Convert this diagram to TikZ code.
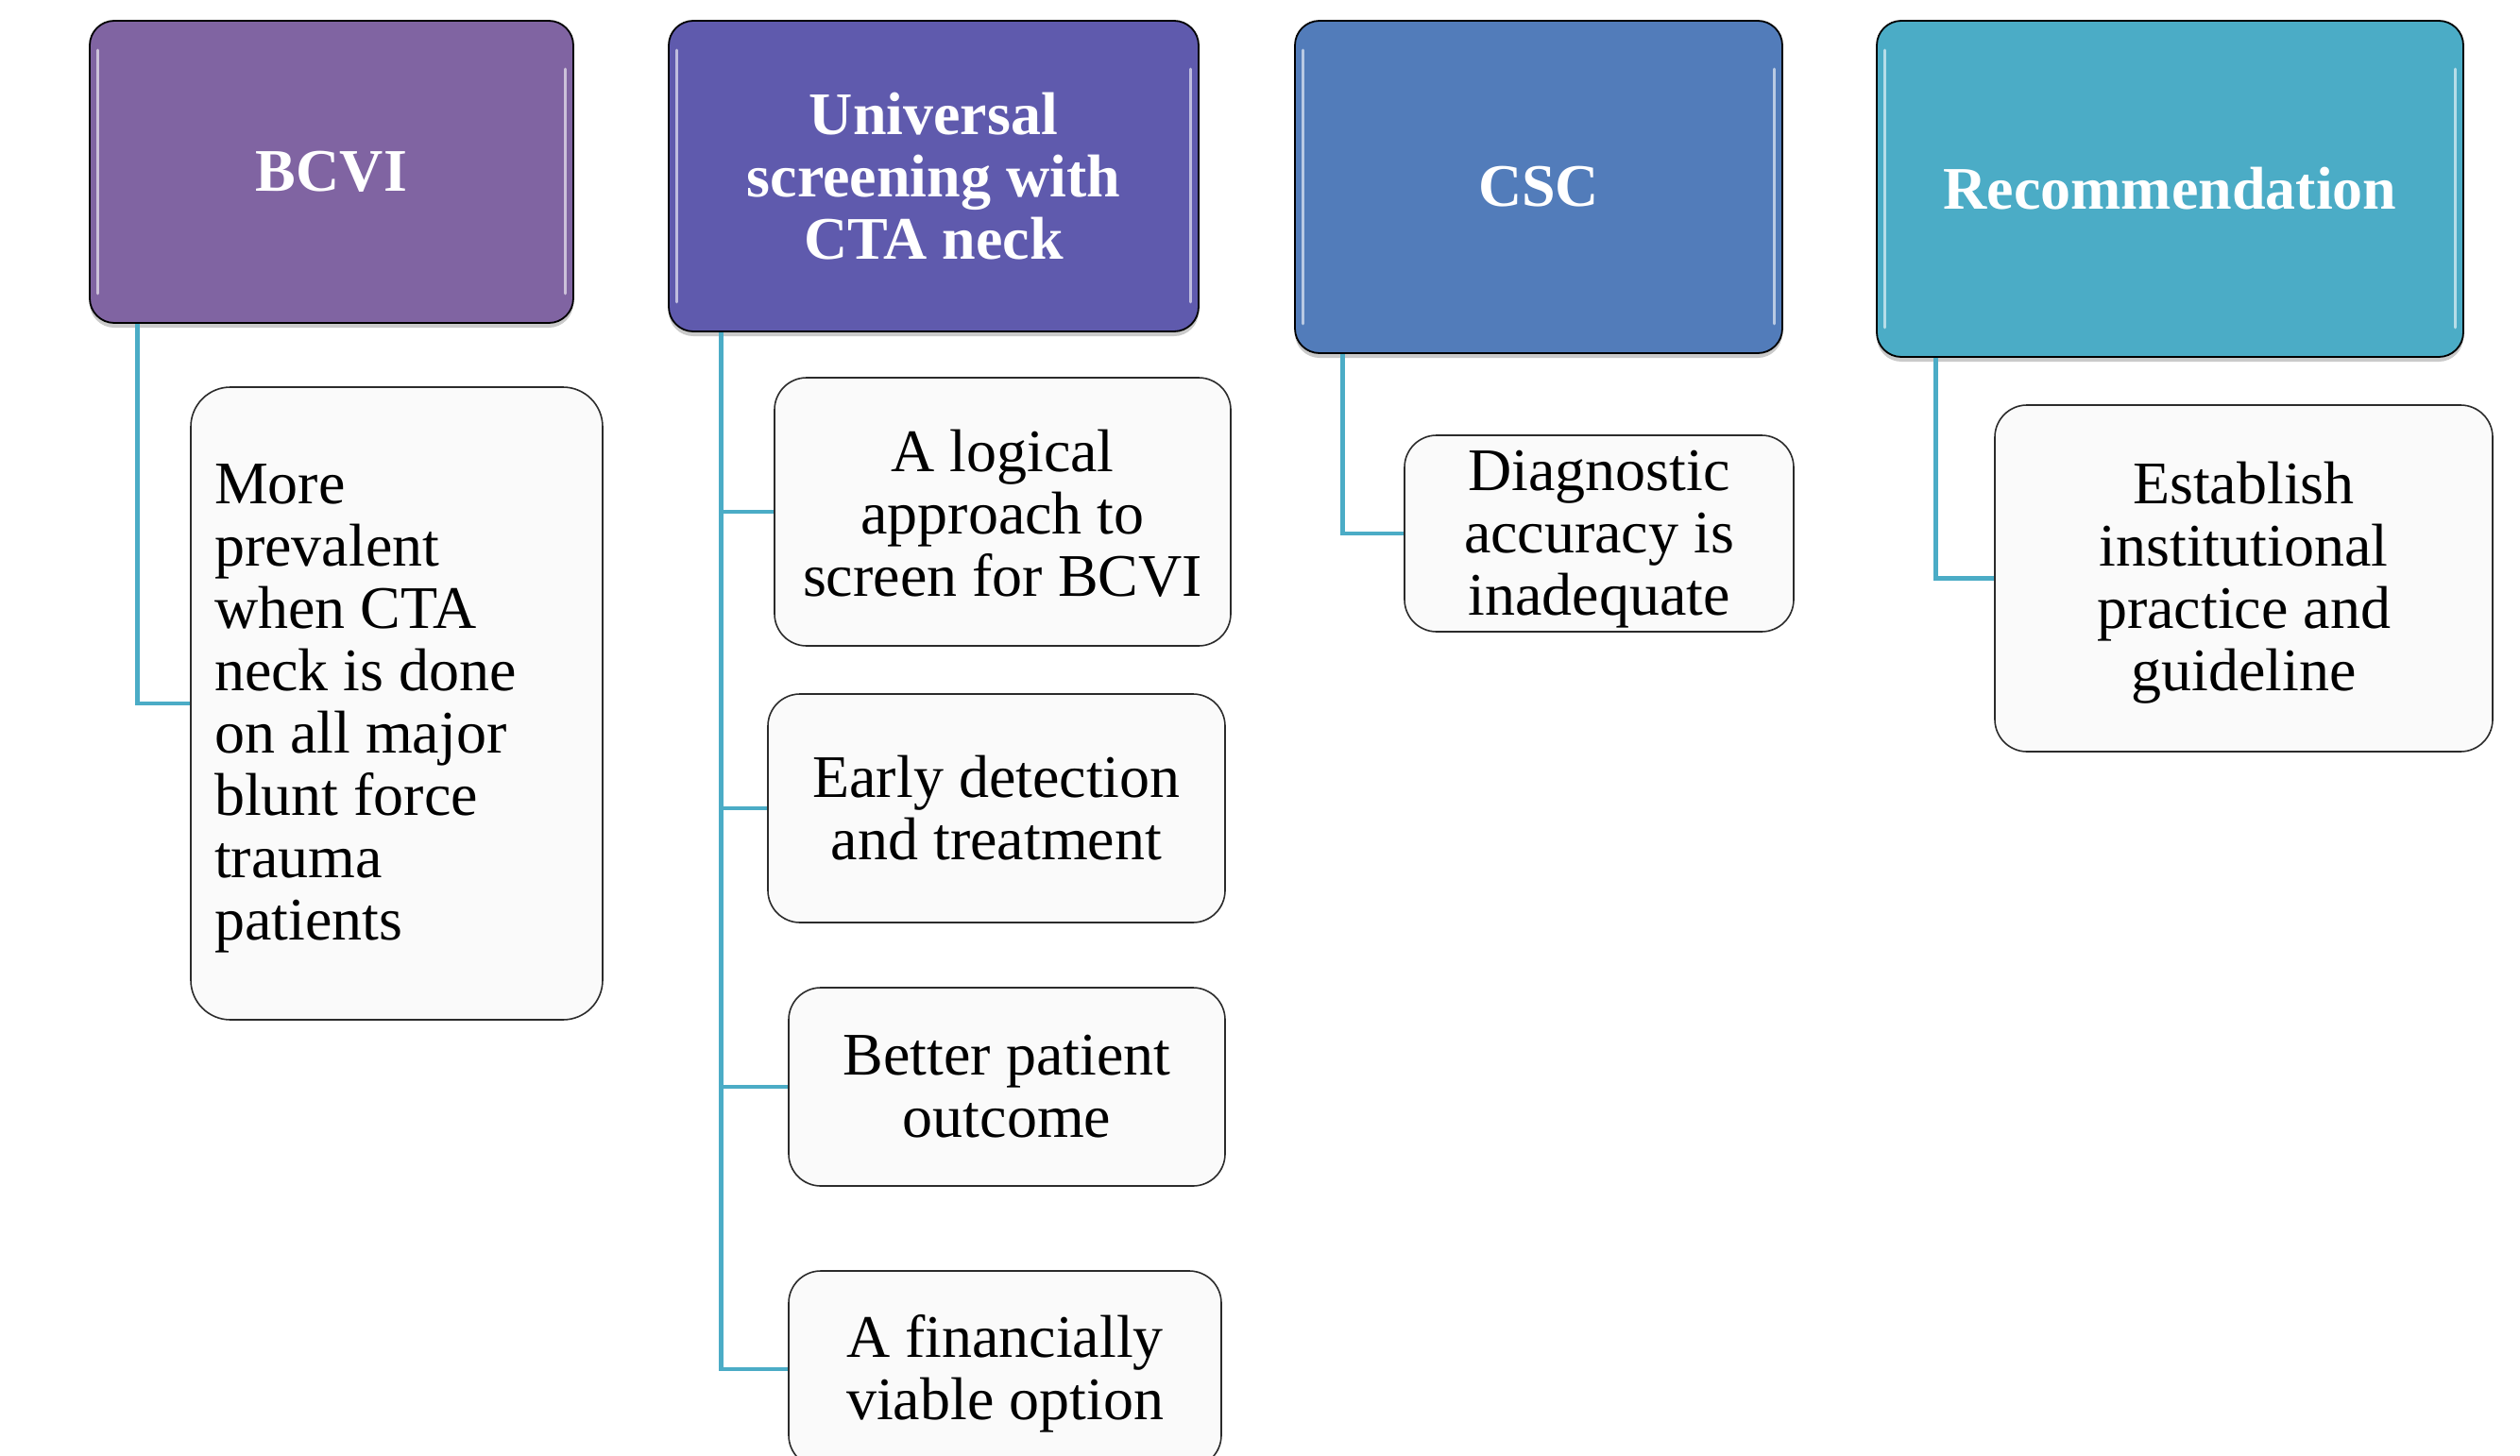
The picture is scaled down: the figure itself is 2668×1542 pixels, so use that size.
\documentclass[tikz,border=0pt]{standalone}
\usepackage{fontspec}
\setmainfont{Liberation Serif}
\usetikzlibrary{shadows}

\definecolor{cBcvi}{HTML}{8064A2}
\definecolor{cUniv}{HTML}{5F5AAD}
\definecolor{cCsc}{HTML}{527CBA}
\definecolor{cRec}{HTML}{4BACC6}
\definecolor{cLink}{HTML}{4BACC6}
\definecolor{cCard}{HTML}{FAFAFA}
\definecolor{cEdge}{HTML}{2B2B2B}

\tikzset{
  head/.style={rounded corners=13pt, draw=black, line width=0.9pt, fill=#1,
    text=white, font=\bfseries\fontsize{32}{33}\selectfont, align=center,
    inner sep=0pt,
    drop shadow={shadow xshift=0pt, shadow yshift=-2.5pt, opacity=0.35, fill=black!60}},
  card/.style={rounded corners=17pt, draw=cEdge, line width=0.8pt, fill=cCard,
    inner sep=0pt},
  cardtext/.style={text=black, font=\fontsize{32}{33}\selectfont, align=center, inner sep=0pt},
  gloss/.style={draw=white, opacity=0.6, line width=1.5pt, line cap=round},
  link/.style={draw=cLink, line width=2.4pt},
}

\begin{document}
\begin{tikzpicture}[x=0.5pt, y=-0.5pt]
\useasboundingbox (0,0) rectangle (2668,1542);
\clip (0,0) rectangle (2668,1542);

% top-level headings
\node[head=cBcvi, minimum width=256pt, minimum height=160pt] (h1) at (351,182) {BCVI};
\node[head=cUniv, minimum width=280.5pt, minimum height=164.5pt] (h2) at (988.5,186.5)
  {Universal\\screening with\\CTA neck};
\node[head=cCsc, minimum width=258pt, minimum height=176pt] (h3) at (1629,198) {CSC};
\node[head=cRec, minimum width=310.5pt, minimum height=178pt] (h4) at (2297.5,200) {Recommendation};

% glossy edge highlights on the headings
\foreach \h in {h1,h2,h3,h4}{
  \draw[gloss] ([xshift=4.5pt,yshift=-16pt]\h.north west) -- ([xshift=4.5pt,yshift=16pt]\h.south west);
  \draw[gloss] ([xshift=-4.5pt,yshift=-26pt]\h.north east) -- ([xshift=-4.5pt,yshift=16pt]\h.south east);
}

% detail cards (frames)
\node[card, rounded corners=21pt, minimum width=218pt, minimum height=335pt] (c1) at (420,745) {};
\node[card, minimum width=241.5pt, minimum height=142pt] (c2) at (1061.5,542) {};
\node[card, minimum width=242pt, minimum height=121pt] (c3) at (1055,856) {};
\node[card, minimum width=231pt, minimum height=105pt] (c4) at (1066,1151) {};
\node[card, minimum width=229pt, minimum height=104pt] (c5) at (1064,1450) {};
\node[card, minimum width=206pt, minimum height=104pt] (c6) at (1693,565) {};
\node[card, minimum width=263.5pt, minimum height=183.5pt] (c7) at (2375.5,612.5) {};

% card texts
\node[cardtext, align=left, anchor=west] (t1) at ([xshift=12.75pt,yshift=-2.5pt]c1.west)
  {More\\prevalent\\when CTA\\neck is done\\on all major\\blunt force\\trauma\\patients};
\node[cardtext] (t2) at ([yshift=-0.8pt]c2.center) {A logical\\approach to\\screen for BCVI};
\node[cardtext] (t3) at (c3.center) {Early detection\\and treatment};
\node[cardtext] (t4) at (c4.center) {Better patient\\outcome};
\node[cardtext] (t5) at ([yshift=-2.5pt]c5.center) {A financially\\viable option};
\node[cardtext] (t6) at ([yshift=-3.2pt]c6.center) {Diagnostic\\accuracy is\\inadequate};
\node[cardtext] (t7) at ([yshift=-2.5pt]c7.center) {Establish\\institutional\\practice and\\guideline};

% elbow connectors from headings to cards
\draw[link] ([xshift=25.5pt]h1.south west) |- (c1.west);
\draw[link] ([xshift=28pt]h2.south west) |- (c2.west);
\draw[link] ([xshift=28pt]h2.south west) |- (c3.west);
\draw[link] ([xshift=28pt]h2.south west) |- (c4.west);
\draw[link] ([xshift=28pt]h2.south west) |- (c5.west);
\draw[link] ([xshift=25.5pt]h3.south west) |- (c6.west);
\draw[link] ([xshift=31.5pt]h4.south west) |- (c7.west);
\end{tikzpicture}
\end{document}
